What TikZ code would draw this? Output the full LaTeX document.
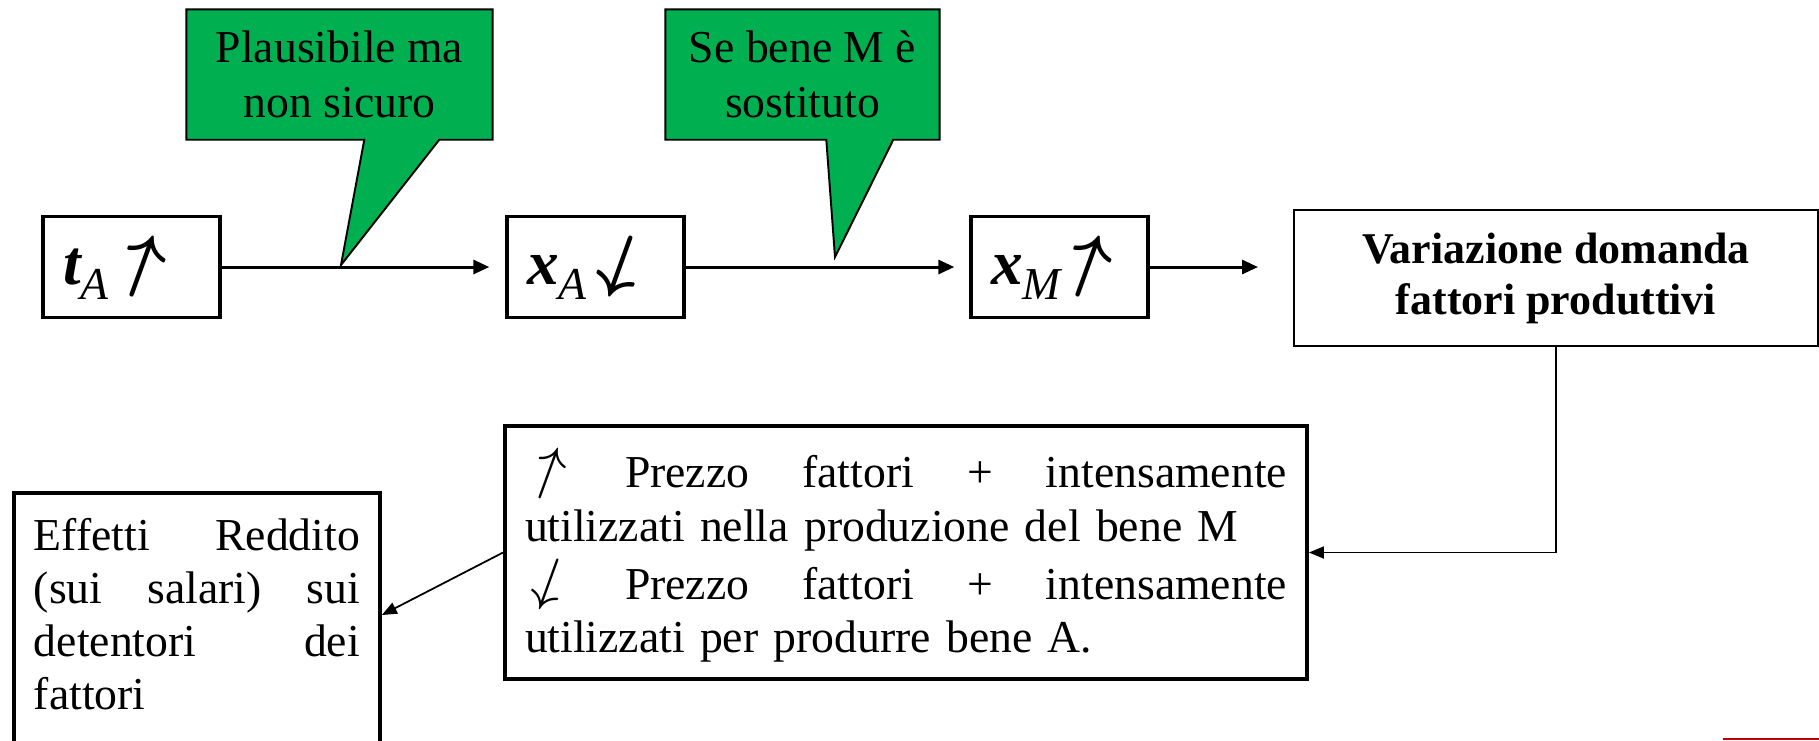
\documentclass[tikz,border=0pt]{standalone}
\usepackage{fontspec}
\setmainfont{Liberation Serif}
\usepackage{graphicx}
\usetikzlibrary{arrows.meta,backgrounds}
\definecolor{eqgreen}{HTML}{00B050}
\definecolor{eqred}{HTML}{C00000}
\setlength{\parindent}{0pt}
\hbadness=10000
\newcommand{\eqvar}[2]{{\bfseries\itshape #1}\raisebox{-4.3pt}{\fontsize{13}{13}\selectfont\itshape #2}}
\newcommand{\equp}[1]{\raisebox{0.12em}{\fontsize{#1}{#1}\selectfont\rotatebox{-20}{$\uparrow$}}}
\newcommand{\eqdown}[1]{\raisebox{0.12em}{\fontsize{#1}{#1}\selectfont\rotatebox{-20}{$\downarrow$}}}
\newcommand{\eqline}[2]{\leavevmode\hbox to #1{#2}}
\tikzset{
  eq var/.style={draw, line width=0.95pt, fill=white, minimum height=10.1mm,
    inner xsep=2mm, text width=13.7mm, align=left, font=\fontsize{18}{18}\selectfont},
  eq result/.style={draw, line width=0.55pt, minimum width=52.4mm, minimum height=13.6mm,
    align=center, font=\fontsize{12.5}{14.5}\selectfont\bfseries},
  eq text/.style={draw, line width=1.1pt, inner xsep=2mm, align=left,
    font=\fontsize{13}{15.1}\selectfont},
  eq callout/.style={minimum height=12.9mm, align=center,
    font=\fontsize{13}{15.6}\selectfont},
  eq balloon/.style={fill=eqgreen, draw=black, line width=0.55pt},
  eq flow/.style={-{Triangle[length=1.6mm,width=1.4mm]}, line width=0.85pt},
  eq link/.style={-{Triangle[length=1.5mm,width=1.2mm]}, line width=0.5pt}
}

\begin{document}
\begin{tikzpicture}[x=0.1mm, y=-0.1mm]
  \useasboundingbox (0,0) rectangle (1819,740);
  % catena degli effetti
  \node[eq var] (tA) at (131.5,267) {\eqvar{t}{A}\hspace{1pt}{\boldmath\equp{21}}};
  \node[eq var] (xA) at (595.5,267) {\eqvar{x}{A}\hspace{1pt}{\boldmath\eqdown{21}}};
  \node[eq var] (xM) at (1059.5,267) {\eqvar{x}{M}\hspace{-1pt}{\boldmath\equp{21}}};
  \node[eq result] (res) at (1556,278) {Variazione domanda\\fattori produttivi};
  \node[eq text, text width=76.2mm, minimum height=25.3mm] (prezzo) at (906,552.5)
    {\eqline{76.2mm}{\equp{16}\hfill Prezzo\hfill fattori\hfill +\hfill intensamente}\\
     utilizzati nella produzione del bene M\\
     \eqline{76.2mm}{\eqdown{16}\hfill Prezzo\hfill fattori\hfill +\hfill intensamente}\\
     utilizzati per produrre bene A.};
  \node[eq text, text width=32.6mm, inner ysep=2.5mm, text depth=24mm, anchor=north west] (effetti) at (12,491)
    {\eqline{32.6mm}{Effetti\hfill Reddito}\\
     \eqline{32.6mm}{(sui\hfill salari)\hfill sui}\\
     \eqline{32.6mm}{detentori\hfill dei}\\
     fattori};
  % note
  \node[eq callout, minimum width=30.5mm] (note1) at (339.5,74.5) {Plausibile ma\\non sicuro};
  \coordinate (note1tip) at (341,265);
  \node[eq callout, minimum width=27.3mm] (note2) at (802.5,74.5) {Se bene M è\\sostituto};
  \coordinate (note2tip) at (835,257);
  \begin{scope}[on background layer]
    \draw[eq balloon] (note1.south west) -- (note1.north west) -- (note1.north east) -- (note1.south east)
      -- ([xshift=25.3mm]note1.south west) -- (note1tip) -- ([xshift=17.8mm]note1.south west) -- cycle;
    \draw[eq balloon] (note2.south west) -- (note2.north west) -- (note2.north east) -- (note2.south east)
      -- ([xshift=22.8mm]note2.south west) -- (note2tip) -- ([xshift=16.1mm]note2.south west) -- cycle;
  \end{scope}
  % frecce
  \draw[eq flow, shorten >=1.6mm] (tA) -- (xA);
  \draw[eq flow, shorten >=1.5mm] (xA) -- (xM);
  \draw[eq flow, shorten >=3.5mm] (xM.east) -- (xM.east -| res.west);
  \draw[eq link] (res.south) |- (prezzo.east);
  \draw[eq link] (prezzo.west) -- ([yshift=-12.4mm]effetti.north east);
  \fill[eqred] (1723,738) rectangle (1819,740);
\end{tikzpicture}
\end{document}
